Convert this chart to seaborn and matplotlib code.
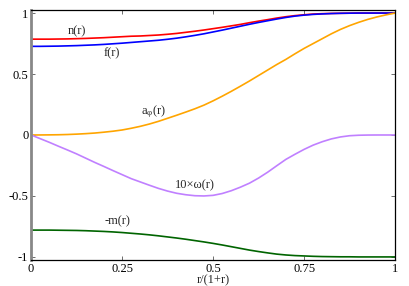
import numpy as np
import pandas as pd
import matplotlib
matplotlib.use('Agg')
import matplotlib.pyplot as plt
import seaborn as sns

# values, x = r/(1+r) in steps of 0.025
x = [round(0.025 * i, 3) for i in range(41)]
n_r = [0.786, 0.786, 0.786, 0.787, 0.788, 0.790, 0.792, 0.795, 0.798, 0.802,
       0.806, 0.810, 0.812, 0.816, 0.820, 0.826, 0.833, 0.842, 0.851, 0.861,
       0.872, 0.883, 0.895, 0.907, 0.921, 0.934, 0.946, 0.959, 0.970, 0.979,
       0.986, 0.992, 0.995, 0.997, 0.998, 0.999, 1.0, 1.0, 1.0, 1.0, 1.0]
f_r = [0.727, 0.727, 0.728, 0.729, 0.731, 0.733, 0.736, 0.739, 0.743, 0.748,
       0.753, 0.759, 0.765, 0.771, 0.777, 0.785, 0.794, 0.805, 0.817, 0.830,
       0.845, 0.860, 0.876, 0.892, 0.908, 0.923, 0.937, 0.951, 0.964, 0.975,
       0.983, 0.989, 0.993, 0.996, 0.998, 0.999, 1.0, 1.0, 1.0, 1.0, 1.0]
a_phi = [0.0, 0.0003, 0.001, 0.002, 0.004, 0.007, 0.011, 0.016, 0.023, 0.031,
         0.041, 0.055, 0.071, 0.090, 0.112, 0.137, 0.162, 0.188, 0.215, 0.245,
         0.280, 0.318, 0.358, 0.400, 0.443, 0.488, 0.533, 0.578, 0.620, 0.666,
         0.710, 0.750, 0.790, 0.830, 0.866, 0.897, 0.924, 0.948, 0.968, 0.985, 1.0]
omega10 = [0.0, -0.030, -0.060, -0.092, -0.123, -0.155, -0.190, -0.225, -0.258, -0.292,
           -0.325, -0.358, -0.385, -0.412, -0.438, -0.460, -0.478, -0.490, -0.498, -0.500,
           -0.495, -0.480, -0.457, -0.428, -0.395, -0.353, -0.305, -0.252, -0.200, -0.158,
           -0.118, -0.083, -0.055, -0.032, -0.016, -0.006, -0.002, -0.0005, 0.0, 0.0, 0.0]
minus_m = [-0.780, -0.780, -0.780, -0.781, -0.782, -0.783, -0.785, -0.788, -0.791, -0.795,
           -0.800, -0.806, -0.812, -0.819, -0.827, -0.836, -0.845, -0.855, -0.866, -0.877,
           -0.889, -0.902, -0.916, -0.930, -0.944, -0.956, -0.967, -0.977, -0.984, -0.989,
           -0.992, -0.995, -0.997, -0.998, -0.999, -0.999, -1.0, -1.0, -1.0, -1.0, -1.0]

labels = ['n(r)', 'f(r)', r'a$_\varphi$(r)', '10×ω(r)', '-m(r)']
colors = ['#ff0000', '#0000ff', '#ffa500', '#c080ff', '#006400']
label_pos = [(0.126, 0.85), (0.223, 0.67), (0.335, 0.19), (0.45, -0.41), (0.236, -0.71)]

df = pd.DataFrame({'x': x, 'n': n_r, 'f': f_r, 'a': a_phi, 'w': omega10, 'm': minus_m})

sns.set_style('ticks')
plt.rcParams['font.family'] = ['Liberation Serif', 'DejaVu Serif']
plt.rcParams['mathtext.fontset'] = 'custom'
plt.rcParams['mathtext.rm'] = 'Liberation Serif'
plt.rcParams['mathtext.it'] = 'Liberation Serif'

fig = plt.figure(figsize=(4.09, 2.86), dpi=100)
ax = fig.add_axes([0.076, 0.091, 0.890, 0.874])

for col, c in zip(['n', 'f', 'a', 'w', 'm'], colors):
    sns.lineplot(data=df, x='x', y=col, color=c, lw=1.2, ax=ax)

for lab, (px, py) in zip(labels, label_pos):
    ax.text(px, py, lab, fontsize=9, ha='center', va='center')

ax.set_xlim(0, 1)
ax.set_ylim(-1.025, 1.025)
ax.set_xticks([0, 0.25, 0.5, 0.75, 1])
ax.set_xticklabels(['0', '0.25', '0.5', '0.75', '1'])
ax.set_yticks([-1, -0.5, 0, 0.5, 1])
ax.set_yticklabels(['-1', '-0.5', '0', '0.5', '1'])
ax.tick_params(direction='in', length=3, width=0.6, labelsize=9, top=True, right=True,
               pad=2, colors='#555555', labelcolor='black')
ax.set_xlabel('r/(1+r)', fontsize=9, va='center')
ax.xaxis.set_label_coords(0.5, -0.082)
ax.set_ylabel('')
for s in ['top', 'right', 'bottom']:
    ax.spines[s].set_linewidth(0.9)
    ax.spines[s].set_color('black')
ax.spines['left'].set_color('#888888')
ax.spines['left'].set_linewidth(2)

fig.savefig('out.png', dpi=100)
